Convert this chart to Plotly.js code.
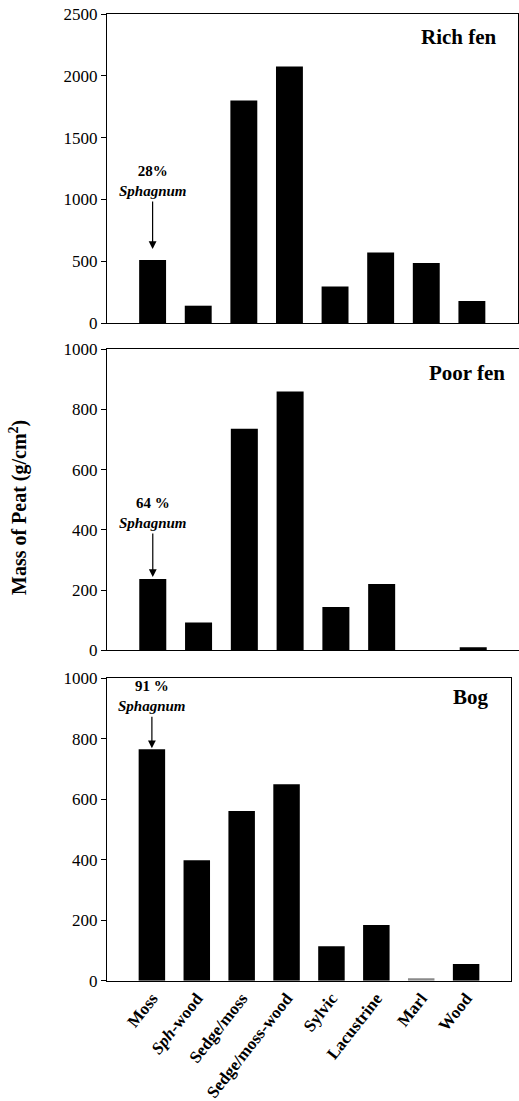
<!DOCTYPE html>
<html>
<head>
<meta charset="utf-8">
<script src="https://cdn.plot.ly/plotly-3.0.1.min.js"></script>
<style>html,body{margin:0;padding:0;background:#fff;}#chart{width:519px;height:1101px;}</style>
</head>
<body>
<div id="chart"></div>
<script>
var categories = ['Moss', 'Sph-wood', 'Sedge/moss', 'Sedge/moss-wood', 'Sylvic', 'Lacustrine', 'Marl', 'Wood'];
var tickLabels = ['Moss', '<i>Sph</i>-wood', 'Sedge/moss', 'Sedge/moss-wood', 'Sylvic', 'Lacustrine', 'Marl', 'Wood'];
var richFen = [510, 140, 1800, 2075, 295, 570, 485, 178];
var poorFen = [237, 92, 736, 860, 144, 220, 0, 10];
var bog = [765, 398, 561, 650, 114, 184, 8, 55];
var panelNames = ['Rich fen', 'Poor fen', 'Bog'];
var sphagnumLabels = ['28%', '64 %', '91 %'];

var FONT = 'Liberation Serif';
var W = 519, H = 1101;
function px(x) { return x / W; }
function py(y) { return 1 - y / H; }

function barColors(vals, panel) {
  return vals.map(function (v, i) {
    return (panel === 2 && categories[i] === 'Marl') ? '#8a8a8a' : '#000000';
  });
}

var series = [richFen, poorFen, bog];
var traces = series.map(function (vals, k) {
  return {
    type: 'bar',
    x: categories,
    y: vals,
    xaxis: k === 0 ? 'x' : 'x' + (k + 1),
    yaxis: k === 0 ? 'y' : 'y' + (k + 1),
    marker: { color: barColors(vals, k), line: { width: 0 } },
    hoverinfo: 'x+y',
    showlegend: false
  };
});

function xAxis(domain, anchor, showLabels) {
  return {
    domain: domain,
    anchor: anchor,
    type: 'category',
    categoryorder: 'array',
    categoryarray: categories,
    range: [-1, 8],
    showline: true,
    mirror: true,
    linecolor: '#000',
    linewidth: 1,
    ticks: '',
    showgrid: false,
    zeroline: false,
    showticklabels: showLabels,
    tickvals: categories,
    ticktext: tickLabels.map(function (t) { return '<b>' + t + '</b>'; }),
    tickangle: -52,
    tickfont: { family: FONT, size: 17, color: '#000' },
    fixedrange: true
  };
}
function yAxis(domain, anchor, maxVal, dtick) {
  return {
    domain: domain,
    anchor: anchor,
    range: [0, maxVal],
    dtick: dtick,
    tick0: 0,
    showline: true,
    mirror: true,
    linecolor: '#000',
    linewidth: 1,
    ticks: 'outside',
    ticklen: 5,
    tickcolor: '#000',
    tickwidth: 1,
    showgrid: false,
    zeroline: false,
    tickfont: { family: FONT, size: 17, color: '#000' },
    fixedrange: true
  };
}

var yDomains = [[py(323), py(14)], [py(650.3), py(349.3)], [py(980.7), py(678.3)]];
var rights = [px(517.5), 1.0, px(511)];
var left = px(107);

var annotations = [];
var titlePos = [[499, 37], [507, 373], [491, 697]];
var arrowAy = [-79, -66, -53];
var arrowStand = [11, 2, 1];
series.forEach(function (vals, k) {
  var xr = k === 0 ? 'x' : 'x' + (k + 1);
  var yr = k === 0 ? 'y' : 'y' + (k + 1);
  annotations.push({
    xref: 'paper', yref: 'paper', x: px(titlePos[k][0]), y: py(titlePos[k][1]),
    xanchor: 'right', yanchor: 'middle', showarrow: false,
    text: '<b>' + panelNames[k] + '</b>',
    font: { family: FONT, size: 21, color: '#000' }
  });
  annotations.push({
    xref: xr, yref: yr, x: categories[0], y: vals[0],
    text: '<b>' + sphagnumLabels[k] + '<br><i>Sphagnum</i></b>',
    font: { family: FONT, size: 15, color: '#000' },
    showarrow: true, arrowhead: 2, arrowsize: 1.3, arrowwidth: 1.2,
    arrowcolor: '#000', ax: 0, ay: arrowAy[k], standoff: arrowStand[k],
    borderpad: 2
  });
});
annotations.push({
  xref: 'paper', yref: 'paper', x: px(19), y: py(508),
  xanchor: 'center', yanchor: 'middle', showarrow: false, textangle: -90,
  text: '<b>Mass of Peat (g/cm<sup>2</sup>)</b>',
  font: { family: FONT, size: 20, color: '#000' }
});

var layout = {
  width: W, height: H,
  margin: { l: 0, r: 0, t: 0, b: 0 },
  paper_bgcolor: '#fff', plot_bgcolor: '#fff',
  bargap: 0.41,
  font: { family: FONT, color: '#000' },
  xaxis: xAxis([left, rights[0]], 'y', false),
  yaxis: yAxis(yDomains[0], 'x', 2500, 500),
  xaxis2: xAxis([left, rights[1]], 'y2', false),
  yaxis2: yAxis(yDomains[1], 'x2', 1000, 200),
  xaxis3: xAxis([left, rights[2]], 'y3', true),
  yaxis3: yAxis(yDomains[2], 'x3', 1000, 200),
  annotations: annotations,
  showlegend: false
};

Plotly.newPlot('chart', traces, layout, { displayModeBar: false, staticPlot: true });
</script>
</body>
</html>
